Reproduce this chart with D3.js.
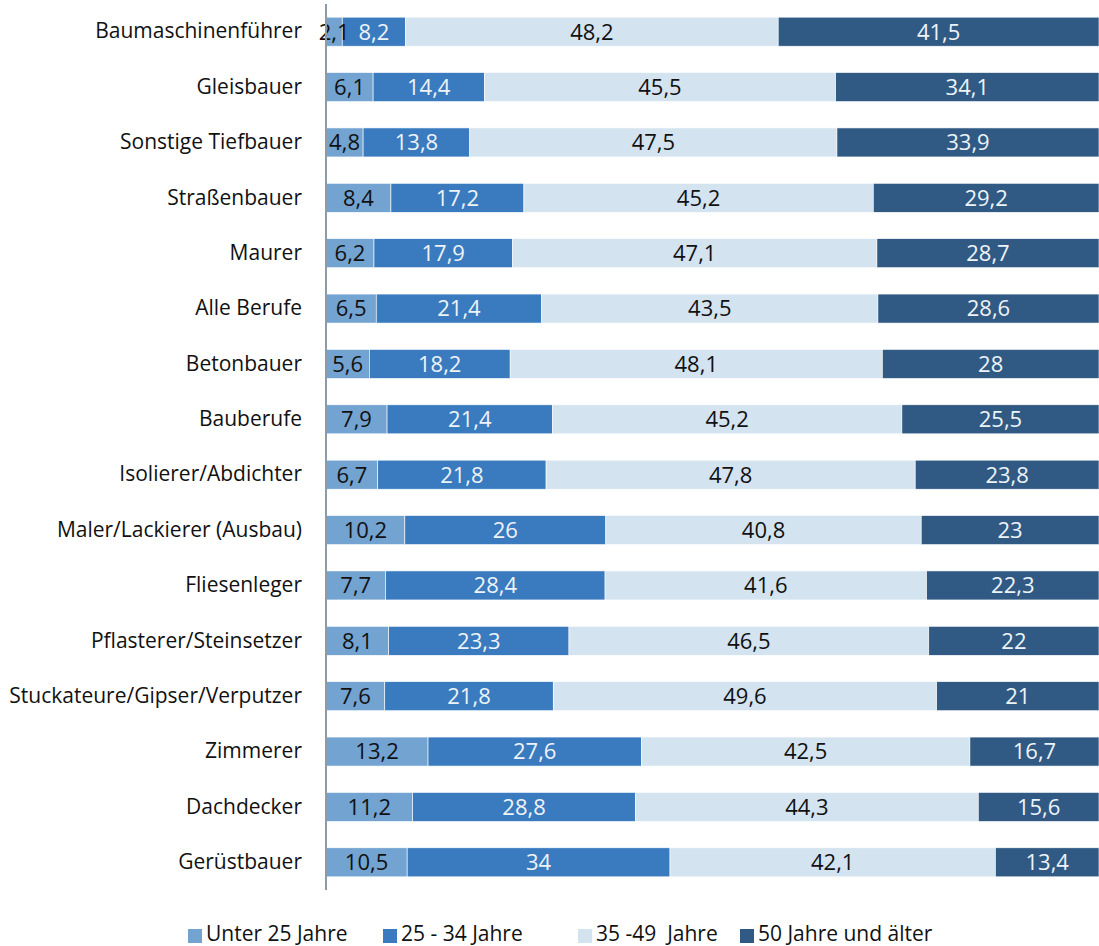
<!DOCTYPE html>
<html>
<head>
<meta charset="utf-8">
<script src="https://cdn.jsdelivr.net/npm/d3@7"></script>
<style>
  html, body { margin: 0; padding: 0; background: #fff; }
  svg { display: block; font-family: "Open Sans", sans-serif; }
</style>
</head>
<body>
<svg id="chart" width="1099" height="946"></svg>
<script>
const categories = ["Baumaschinenführer","Gleisbauer","Sonstige Tiefbauer","Straßenbauer","Maurer","Alle Berufe","Betonbauer","Bauberufe","Isolierer/Abdichter","Maler/Lackierer (Ausbau)","Fliesenleger","Pflasterer/Steinsetzer","Stuckateure/Gipser/Verputzer","Zimmerer","Dachdecker","Gerüstbauer"];
const seriesNames = ["Unter 25 Jahre","25 - 34 Jahre","35 -49  Jahre","50 Jahre und älter"];
const under25 = [2.1,6.1,4.8,8.4,6.2,6.5,5.6,7.9,6.7,10.2,7.7,8.1,7.6,13.2,11.2,10.5];
const age25_34 = [8.2,14.4,13.8,17.2,17.9,21.4,18.2,21.4,21.8,26,28.4,23.3,21.8,27.6,28.8,34];
const age35_49 = [48.2,45.5,47.5,45.2,47.1,43.5,48.1,45.2,47.8,40.8,41.6,46.5,49.6,42.5,44.3,42.1];
const age50plus = [41.5,34.1,33.9,29.2,28.7,28.6,28,25.5,23.8,23,22.3,22,21,16.7,15.6,13.4];
const colors = ["#72a3d1","#3a7bbf","#d3e3f0","#305a84"];
const textColors = ["#111","#eef3f8","#111","#eef3f8"];

const seriesArrays = [under25, age25_34, age35_49, age50plus];
const rows = categories.map((c, i) => {
  const r = {cat: c};
  seriesNames.forEach((s, j) => r[s] = seriesArrays[j][i]);
  return r;
});

const svg = d3.select("#chart");
const x = d3.scaleLinear().domain([0, 1]).range([326, 1099]);
const y = d3.scaleBand().domain(categories).range([4, 890]).paddingInner(0.476).paddingOuter(0.238);

const stack = d3.stack().keys(seriesNames).offset(d3.stackOffsetExpand);
const stacked = stack(rows);

const g = svg.append("g");
stacked.forEach((layer, j) => {
  const lg = g.append("g");
  lg.selectAll("rect").data(layer).enter().append("rect")
    .attr("x", d => x(d[0]))
    .attr("y", d => y(d.data.cat))
    .attr("width", d => x(d[1]) - x(d[0]))
    .attr("height", y.bandwidth())
    .attr("fill", colors[j])
    .attr("stroke", "#ffffff")
    .attr("stroke-width", 0.6);
});
stacked.forEach((layer, j) => {
  g.append("g").selectAll("text").data(layer).enter().append("text")
    .attr("x", d => (x(d[0]) + x(d[1])) / 2)
    .attr("y", d => y(d.data.cat) + y.bandwidth() / 2)
    .attr("dy", "0.36em")
    .attr("text-anchor", "middle")
    .attr("font-size", 22)
    .attr("fill", textColors[j])
    .text(d => String(d.data[seriesNames[j]]).replace(".", ","));
});

// axis
const yAxis = d3.axisLeft(y).tickSize(0).tickPadding(24);
const ax = svg.append("g").attr("transform", "translate(326,0)").call(yAxis);
ax.select(".domain").attr("stroke", "#8d9aa8").attr("stroke-width", 2).attr("d", "M0,4V890");
ax.selectAll("text").attr("font-size", 21).attr("fill", "#111").attr("font-family", "'Open Sans', sans-serif");

// legend
const legendX = [188, 383, 578, 740];
const lg = svg.append("g");
seriesNames.forEach((s, j) => {
  lg.append("rect").attr("x", legendX[j]).attr("y", 929).attr("width", 14).attr("height", 14).attr("fill", colors[j]);
  lg.append("text").attr("x", legendX[j] + 18).attr("y", 941)
    .attr("font-size", 21).attr("fill", "#111").style("white-space", "pre").text(s);
});
</script>
</body>
</html>
